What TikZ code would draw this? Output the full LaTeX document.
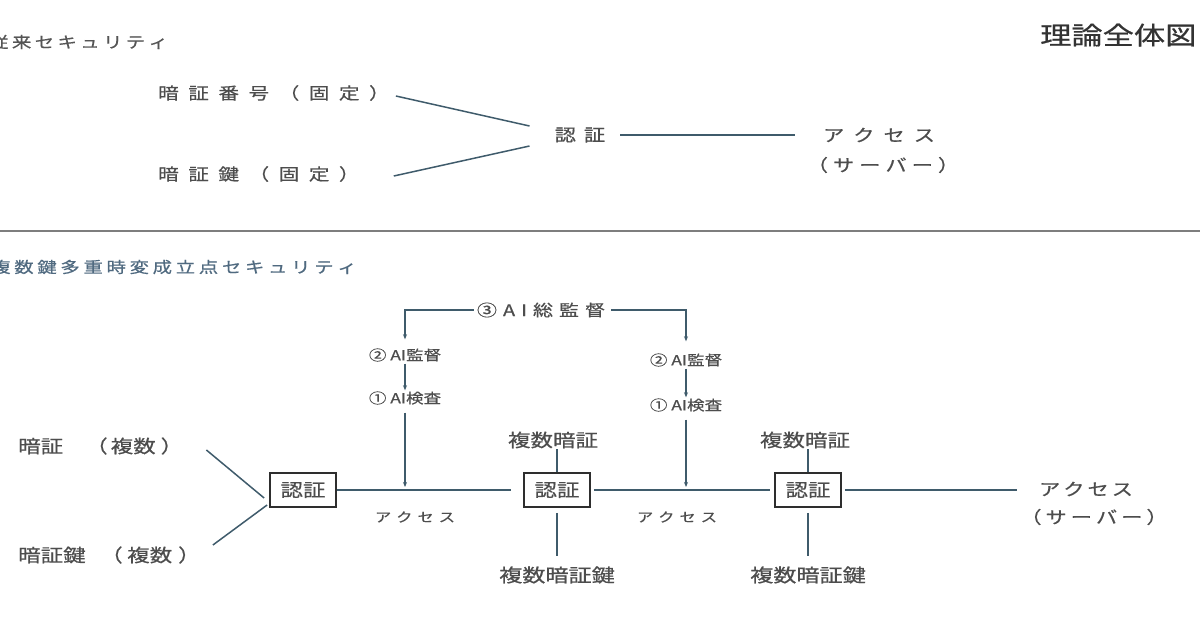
\documentclass[tikz,border=0pt]{standalone}
\usepackage{fontspec}
\newfontfamily\jp[FakeStretch=1.25,FakeBold=0.6]{Noto Sans CJK JP}
\usetikzlibrary{arrows.meta}
\definecolor{txt}{HTML}{4D4D4D}
\definecolor{hdA}{HTML}{555555}
\definecolor{hdB}{HTML}{506A80}
\definecolor{lnc}{HTML}{3F5B6B}
\definecolor{boxc}{HTML}{2E2E2E}
\definecolor{sepc}{HTML}{7E7E7E}
\newcommand\fsz[1]{\fontsize{#1pt}{#1pt}\selectfont}
\newcommand\lsp[2]{\def\lspsep{\hspace{#1}}\lspa#2\relax}
\def\lspa#1{\ifx#1\relax\else#1\expandafter\lspb\fi}
\def\lspb#1{\ifx#1\relax\else\lspsep#1\expandafter\lspb\fi}
\tikzset{
  lbl/.style={inner sep=0pt, text=txt},
  ln/.style={draw=lnc, line width=1.5pt},
  arr/.style={-{Stealth[length=5pt,width=4pt]}},
  authbox/.style={draw=boxc, line width=1.8pt, minimum width=66pt, minimum height=34pt, inner sep=0pt, text=txt, font=\jp\fsz{18}},
}
\begin{document}
\begin{tikzpicture}[x=1pt,y=-1pt]
\useasboundingbox (0,0) rectangle (1200,630);
% headings
\node[lbl, anchor=west, text=hdA, font=\jp\fsz{15.5}] (h1) at (-11,42) {\lsp{3.4pt}{従来セキュリティ}};
\node[lbl, anchor=west, text=black!80, font=\jp\fsz{25}] (ttl) at (1040,35) {理論全体図};
\draw[draw=sepc, line width=2.5pt] (0,231) -- (1200,231);
\node[lbl, anchor=west, text=hdB, font=\jp\fsz{15.5}] (h2) at (-9,267) {\lsp{3.7pt}{複数鍵多重時変成立点セキュリティ}};
% top section
\node[lbl, anchor=west, font=\jp\fsz{16.5}] (k1) at (158,93) {\lsp{9.5pt}{暗証番号（固定）}};
\node[lbl, anchor=west, font=\jp\fsz{16.5}] (k2) at (158,174) {\lsp{9.5pt}{暗証鍵（固定）}};
\node[lbl, font=\jp\fsz{17}] (n0) at (580,135) {\lsp{8pt}{認証}};
\node[lbl, font=\jp\fsz{17}] (s0a) at (879,135) {\lsp{9pt}{アクセス}};
\node[lbl, font=\jp\fsz{17}] (s0b) at (883,165) {\lsp{5pt}{（サーバー）}};
\draw[ln] ([xshift=6pt,yshift=-3pt]k1.east) -- ([xshift=-25pt,yshift=9pt]n0.west);
\draw[ln] ([xshift=34pt,yshift=-2pt]k2.east) -- ([xshift=-25pt,yshift=-11pt]n0.west);
\draw[ln] ([xshift=15pt]n0.east) -- ([xshift=-28pt]s0a.west);
% bottom section: AI supervision
\node[lbl, font=\jp\fsz{16}] (ai3) at (541,310) {\lsp{6pt}{③AI総監督}};
\node[lbl, font=\jp\fsz{14}] (m2L) at (405,355) {② AI監督};
\node[lbl, font=\jp\fsz{14}] (m1L) at (405,398) {① AI検査};
\node[lbl, font=\jp\fsz{14}] (m2R) at (686,360) {② AI監督};
\node[lbl, font=\jp\fsz{14}] (m1R) at (686,405) {① AI検査};
\draw[ln, arr] ([xshift=-3pt]ai3.west) -| ([yshift=9pt]m2L.north);
\draw[ln, arr] ([xshift=6pt]ai3.east) -| ([yshift=12pt]m2R.north);
\draw[ln, arr, line width=1.2pt, shorten <=2pt, shorten >=1pt] (m2L.south) -- (m1L.north);
\draw[ln, arr, line width=1.2pt, shorten <=2pt, shorten >=1pt] (m2R.south) -- (m1R.north);
% auth boxes
\node[authbox] (b1) at (303,490) {認証};
\node[authbox] (b2) at (557,490) {認証};
\node[authbox] (b3) at (808,490) {認証};
\draw[ln] (b1.east) -- ([xshift=-12pt]b2.west);
\draw[ln] ([xshift=3pt]b2.east) -- ([xshift=-4pt]b3.west);
\node[lbl, font=\jp\fsz{17}] (accR) at (1086,489) {\lsp{3pt}{アクセス}};
\node[lbl, font=\jp\fsz{17}] (srvR) at (1094,517) {\lsp{4pt}{（サーバー）}};
\draw[ln] ([xshift=3pt]b3.east) -- ([xshift=-22pt]accR.west |- b3.east);
\draw[ln, arr, shorten <=8pt, shorten >=3pt] (m1L.south) -- (m1L.south |- b1.east);
\draw[ln, arr, shorten <=8pt, shorten >=3pt] (m1R.south) -- (m1R.south |- b2.east);
\node[lbl, font=\jp\fsz{13}] (acL) at (415,517) {\lsp{5pt}{アクセス}};
\node[lbl, font=\jp\fsz{13}] (acM) at (677,517) {\lsp{5pt}{アクセス}};
% inputs
\node[lbl, anchor=west, font=\jp\fsz{18}] (p1) at (18,446) {暗証\hspace{22pt}（\hspace{3pt}複数\hspace{5pt}）};
\node[lbl, anchor=west, font=\jp\fsz{18}] (p2) at (18,555) {暗証鍵\hspace{14.5pt}（\hspace{4.5pt}複数\hspace{6pt}）};
\draw[ln] ([xshift=23pt,yshift=-4pt]p1.east) -- ([xshift=-5pt,yshift=-8pt]b1.west);
\draw[ln] ([xshift=12pt,yshift=10pt]p2.east) -- ([xshift=-2pt,yshift=-15pt]b1.west);
% multi labels
\node[lbl, font=\jp\fsz{18}] (q2a) at (553,440) {複数暗証};
\node[lbl, font=\jp\fsz{18.5}] (q2b) at (557,575) {複数暗証鍵};
\node[lbl, font=\jp\fsz{18}] (q3a) at (805,440) {複数暗証};
\node[lbl, font=\jp\fsz{18.5}] (q3b) at (808,575) {複数暗証鍵};
\draw[ln] (b2.north) -- (b2.north |- q2a.south);
\draw[ln, shorten <=5pt, shorten >=10pt] (b2.south) -- (b2.south |- q2b.north);
\draw[ln] (b3.north) -- (b3.north |- q3a.south);
\draw[ln, shorten <=5pt, shorten >=10pt] (b3.south) -- (b3.south |- q3b.north);
\end{tikzpicture}
\end{document}
